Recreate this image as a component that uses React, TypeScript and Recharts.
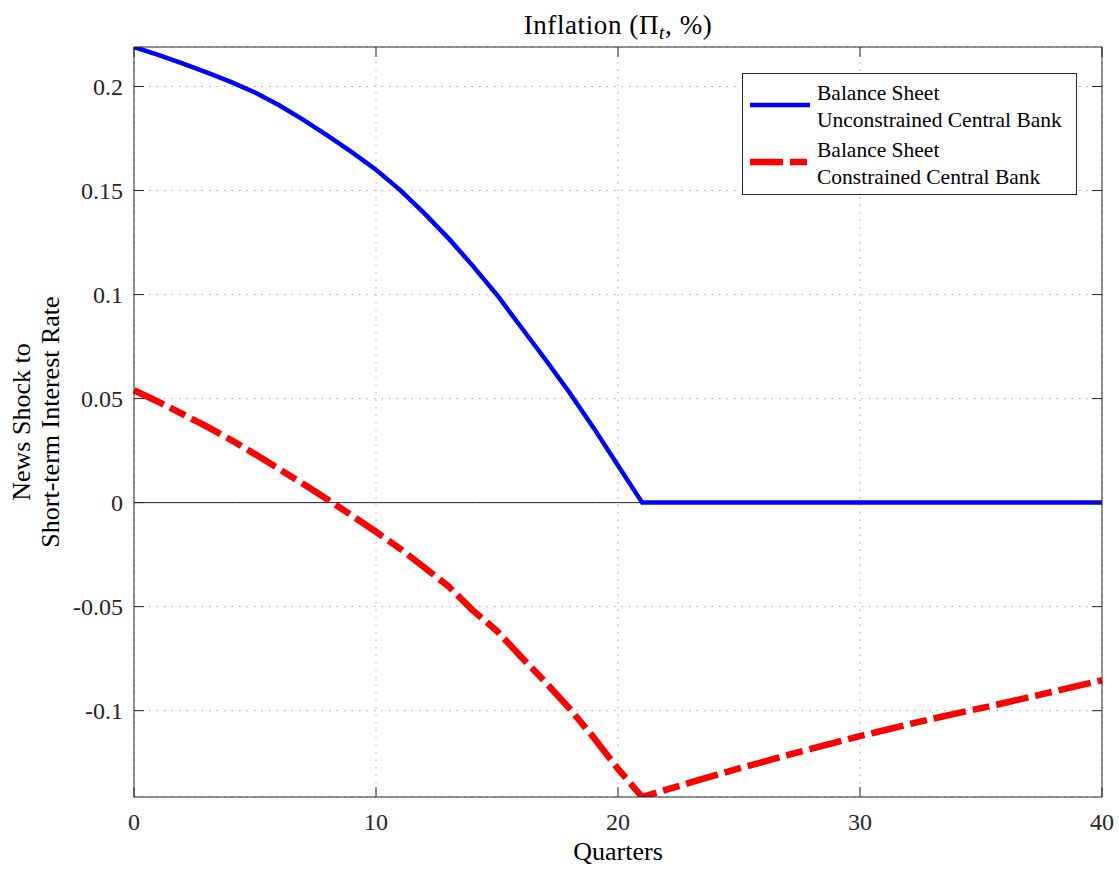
import { LineChart, Line, XAxis, YAxis, CartesianGrid, ReferenceLine, Legend, Label } from 'recharts';

const quarters = [
  0, 1, 2, 3, 4, 5, 6, 7, 8, 9, 10, 11, 12, 13, 14, 15, 16, 17, 18, 19, 20,
  21, 22, 23, 24, 25, 26, 27, 28, 29, 30, 31, 32, 33, 34, 35, 36, 37, 38, 39, 40,
];

// balance sheet unconstrained central bank
const unconstrained = [
  0.219, 0.2152, 0.2111, 0.2068, 0.2022, 0.1971, 0.191, 0.184, 0.1764, 0.1685, 0.16,
  0.1502, 0.139, 0.127, 0.1138, 0.0998, 0.0843, 0.0688, 0.0528, 0.0358, 0.0178,
  0, 0, 0, 0, 0, 0, 0, 0, 0, 0, 0, 0, 0, 0, 0, 0, 0, 0, 0, 0,
];

// balance sheet constrained central bank
const constrained = [
  0.054, 0.0485, 0.0426, 0.0366, 0.0302, 0.0233, 0.0162, 0.0089, 0.0015, -0.0062, -0.014,
  -0.0222, -0.0312, -0.0403, -0.0518, -0.0617, -0.0742, -0.0863, -0.099, -0.113, -0.128,
  -0.1415, -0.138, -0.1345, -0.1311, -0.1278, -0.1246, -0.1214, -0.1183, -0.1152, -0.1122,
  -0.1094, -0.1066, -0.1039, -0.1013, -0.0988, -0.0962, -0.0935, -0.0908, -0.0881, -0.0854,
];

const xTicks = [0, 10, 20, 30, 40];
const yTicks = [-0.1, -0.05, 0, 0.05, 0.1, 0.15, 0.2];
const yDomain = [-0.1415, 0.219];

const unconstrainedLabel = ['Balance Sheet', 'Unconstrained Central Bank'];
const constrainedLabel = ['Balance Sheet', 'Constrained Central Bank'];

const FONT = '"Liberation Serif", "Times New Roman", serif';
const AXIS = '#262626';
const BLUE = '#0000ff';
const RED = '#ff0000';
const RED_DASH = '33 7 17 7';

const data = quarters.map((q, i) => ({
  quarter: q,
  unconstrained: unconstrained[i],
  constrained: constrained[i],
}));

const legendItems = [
  { lines: unconstrainedLabel, color: BLUE, width: 4.5, dash: undefined as string | undefined, len: 60 },
  { lines: constrainedLabel, color: RED, width: 6.5, dash: RED_DASH, len: 57 },
];

function LegendBox() {
  return (
    <div
      style={{
        width: 335,
        height: 122,
        boxSizing: 'border-box',
        border: `1px solid ${AXIS}`,
        background: '#fff',
        fontFamily: FONT,
        fontSize: 21.5,
        color: '#000',
        paddingTop: 6,
      }}
    >
      {legendItems.map((item) => (
        <div
          key={item.lines[1]}
          style={{ position: 'relative', height: 54, marginBottom: 3, paddingLeft: 74, lineHeight: '27px', whiteSpace: 'nowrap' }}
        >
          <svg width={64} height={12} style={{ position: 'absolute', left: 7, top: 19 }}>
            <line
              x1={0}
              x2={item.len}
              y1={6}
              y2={6}
              stroke={item.color}
              strokeWidth={item.width}
              strokeDasharray={item.dash}
            />
          </svg>
          <div>{item.lines[0]}</div>
          <div>{item.lines[1]}</div>
        </div>
      ))}
    </div>
  );
}

function TitleLabel(props: any) {
  const { x, y, width, height } = props.viewBox;
  return (
    <text
      x={x + width / 2}
      y={y + height - 13}
      textAnchor="middle"
      fontFamily={FONT}
      fontSize={27}
      letterSpacing={0.6}
      fill="#000"
    >
      Inflation (Π
      <tspan fontStyle="italic" fontSize={19} dy={5}>t</tspan>
      <tspan dy={-5}>, %)</tspan>
    </text>
  );
}

function YTitle(props: any) {
  const { y, height } = props.viewBox;
  const cy = y + height / 2;
  const bx = 30;
  return (
    <text
      x={bx}
      y={cy}
      transform={`rotate(-90, ${bx}, ${cy})`}
      textAnchor="middle"
      fontFamily={FONT}
      fontSize={26}
      fill="#000"
    >
      <tspan x={bx} dy={0}>News Shock to</tspan>
      <tspan x={bx} dy={29}>Short-term Interest Rate</tspan>
    </text>
  );
}

function XTitle(props: any) {
  const { x, y, width } = props.viewBox;
  return (
    <text x={x + width / 2} y={y + 63} textAnchor="middle" fontFamily={FONT} fontSize={26} fill="#000">
      Quarters
    </text>
  );
}

const tickStyle = { fontSize: 24, fill: AXIS, fontFamily: FONT };

export default function App() {
  return (
    <div style={{ position: 'absolute', left: 0, top: 0, background: '#fff' }}>
      <LineChart
        width={1119}
        height={871}
        data={data}
        margin={{ top: 1, right: 1, bottom: 0, left: 0 }}
        style={{ fontFamily: FONT }}
      >
        <CartesianGrid stroke="#a6a6a6" strokeDasharray="1.5 6" />
        <XAxis
          dataKey="quarter"
          type="number"
          domain={[0, 40]}
          ticks={xTicks}
          height={74}
          tick={tickStyle}
          tickSize={-10}
          tickMargin={26}
          axisLine={{ stroke: AXIS }}
          tickLine={{ stroke: AXIS }}
        >
          <Label content={XTitle} />
        </XAxis>
        <XAxis
          xAxisId="top"
          orientation="top"
          dataKey="quarter"
          type="number"
          domain={[0, 40]}
          ticks={xTicks}
          height={46}
          tick={() => <g />}
          tickSize={-10}
          axisLine={{ stroke: AXIS }}
          tickLine={{ stroke: AXIS }}
        >
          <Label content={TitleLabel} />
        </XAxis>
        <YAxis
          type="number"
          domain={yDomain}
          ticks={yTicks}
          allowDataOverflow
          width={134}
          tick={tickStyle}
          tickSize={-10}
          tickMargin={21}
          tickFormatter={(v: number) => String(v)}
          axisLine={{ stroke: AXIS }}
          tickLine={{ stroke: AXIS }}
        >
          <Label content={YTitle} />
        </YAxis>
        <YAxis
          yAxisId="right"
          orientation="right"
          type="number"
          domain={yDomain}
          ticks={yTicks}
          allowDataOverflow
          width={16}
          tick={() => <g />}
          tickSize={-10}
          axisLine={{ stroke: AXIS }}
          tickLine={{ stroke: AXIS }}
        />
        <ReferenceLine y={0} stroke={AXIS} strokeWidth={1} />
        <Legend
          layout="vertical"
          align="center"
          verticalAlign="middle"
          wrapperStyle={{ left: 742, top: 73, width: 335 }}
          content={() => <LegendBox />}
        />
        <Line
          type="linear"
          dataKey="unconstrained"
          name="Balance Sheet Unconstrained Central Bank"
          stroke={BLUE}
          strokeWidth={4.5}
          dot={false}
          activeDot={false}
          isAnimationActive={false}
        />
        <Line
          type="linear"
          dataKey="constrained"
          name="Balance Sheet Constrained Central Bank"
          stroke={RED}
          strokeWidth={6.5}
          strokeDasharray={RED_DASH}
          dot={false}
          activeDot={false}
          isAnimationActive={false}
        />
      </LineChart>
    </div>
  );
}
